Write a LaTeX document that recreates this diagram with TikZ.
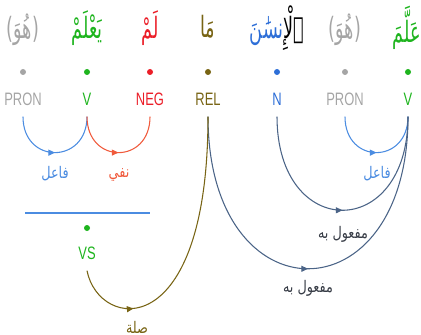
\documentclass[tikz,border=0pt]{standalone}
\usepackage{fontspec}
\setmainfont{Liberation Sans}
\newfontfamily\tagfont[FakeStretch=0.72]{Liberation Sans}
\newfontfamily\parenfont[FakeStretch=0.6]{DejaVu Sans}
\newfontfamily\arabicfont[Script=Arabic,FakeStretch=0.6]{DejaVu Sans}
\newfontfamily\labfont[Script=Arabic,FakeStretch=0.8]{DejaVu Sans}
\TeXXeTstate=1
\usepackage{xcolor}
\usetikzlibrary{arrows.meta,decorations.markings}
\definecolor{corpusgray}{RGB}{165,165,165}
\definecolor{corpusgreen}{RGB}{30,180,30}
\definecolor{corpusred}{RGB}{235,30,40}
\definecolor{corpusolive}{RGB}{120,100,20}
\definecolor{corpusblue}{RGB}{45,110,215}
\definecolor{arcblue}{RGB}{75,140,225}
\definecolor{arcred}{RGB}{240,90,60}
\definecolor{arcslate}{RGB}{75,100,135}
\definecolor{labdark}{RGB}{55,60,70}
\newcommand{\artext}[1]{\beginR #1\endR}

\begin{document}
\begin{tikzpicture}[x=0.75pt,y=-0.75pt,
  word/.style={font=\arabicfont\fontsize{22}{26}\selectfont,inner sep=0pt},
  tag/.style={font=\tagfont\fontsize{13.5}{16}\selectfont,inner sep=1pt,outer sep=7.5pt},
  tokdot/.style={circle,fill,inner sep=0pt,minimum size=4.5pt},
  lab/.style={font=\labfont\fontsize{12}{14}\selectfont,inner sep=1pt},
  deparc/.style={line width=0.8pt,postaction={decorate},
    decoration={markings,mark=at position #1 with {\arrow{Triangle[length=5pt,width=4.5pt]}}}},
  deparc/.default=0.5]
\useasboundingbox (0,0) rectangle (421,335);
\node[word,corpusgray] (w1) at (23,30) {{\parenfont(}\artext{هُوَ}{\parenfont)}};
\node[word,corpusgreen] (w2) at (87,28) {\artext{يَعْلَمْ}};
\node[word,corpusred] (w3) at (150,28) {\artext{لَمْ}};
\node[word,corpusolive] (w4) at (208,27) {\artext{مَا}};
\node[word] (w5) at (277,28) {{\color{corpusblue}\artext{نسَٰنَ}}{\color{black}\artext{ٱلْإِ}}};
\node[word,corpusgray] (w6) at (345,30) {{\parenfont(}\artext{هُوَ}{\parenfont)}};
\node[word,corpusgreen] (w7) at (407,28) {\artext{عَلَّمَ}};
\node[tokdot,corpusgray] (d1) at (23,72) {};
\node[tokdot,corpusgreen] (d2) at (87,72) {};
\node[tokdot,corpusred] (d3) at (150,72) {};
\node[tokdot,corpusolive] (d4) at (208,72) {};
\node[tokdot,corpusblue] (d5) at (277,72) {};
\node[tokdot,corpusgray] (d6) at (345,72) {};
\node[tokdot,corpusgreen] (d7) at (408,72) {};
\node[tag,corpusgray] (pron1) at (23,99) {PRON};
\node[tag,corpusgreen] (v1) at (87,99) {V};
\node[tag,corpusred] (neg) at (150,99) {NEG};
\node[tag,corpusolive] (rel) at (208,99) {REL};
\node[tag,corpusblue] (n) at (277,99) {N};
\node[tag,corpusgray] (pron2) at (345,99) {PRON};
\node[tag,corpusgreen] (v2) at (408,99) {V};
\coordinate (spanl) at (25,213);
\coordinate (spanr) at (150,213);
\draw[arcblue,line width=1pt] (spanl) -- (spanr);
\node[tokdot,corpusgreen] (dvs) at (87,228) {};
\node[tag,corpusgreen] (vs) at (87,253) {VS};
\draw[deparc,arcblue] (pron1.south) .. controls +(0,48) and +(0,48) .. (v1.south);
\draw[deparc,arcred] (v1.south) .. controls +(0,48) and +(0,48) .. (neg.south);
\draw[deparc,arcblue] (pron2.south) .. controls +(0,48) and +(0,48) .. (v2.south);
\draw[deparc,arcslate] (n.south) .. controls +(0,125) and +(0,125) .. (v2.south);
\draw[deparc,arcslate] (rel.south) .. controls +(0,203) and +(0,203) .. (v2.south);
\draw[deparc=0.23,corpusolive] (vs.south) .. controls +(12,60) and +(0,229) .. (rel.south);
\node[lab,arcblue] (l1) at (55,174) {\artext{فاعل}};
\node[lab,arcred] (l2) at (119,175) {\artext{نفي}};
\node[lab,arcblue] (l3) at (377,174) {\artext{فاعل}};
\node[lab,labdark] (l4) at (343,234) {\artext{مفعول به}};
\node[lab,labdark] (l5) at (308,288) {\artext{مفعول به}};
\node[lab,corpusolive] (l6) at (137,327) {\artext{صلة}};
\end{tikzpicture}
\end{document}
